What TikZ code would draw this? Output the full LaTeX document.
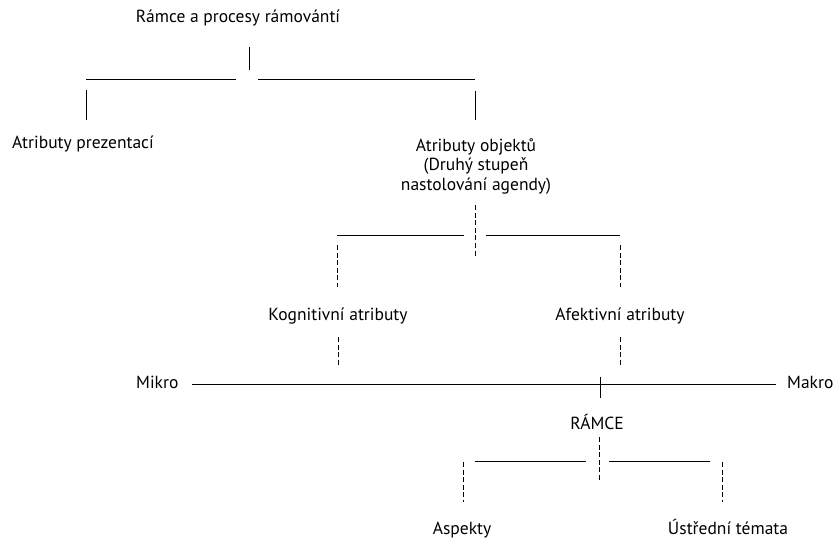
\documentclass[tikz,border=0pt]{standalone}
\usepackage{fontspec}
\setmainfont{PT Sans}
\begin{document}
\begin{tikzpicture}[x=1pt,y=-1pt,
  lbl/.style={font=\fontsize{17.5}{19.5}\selectfont,inner sep=0pt,anchor=base},
  solidseg/.style={line width=0.9pt,black},
  dashseg/.style={line width=0.9pt,black,dash pattern=on 5pt off 2.6pt}]
\useasboundingbox (0,0) rectangle (837,540);

% labels
\node[lbl] (ramce) at (238,23) {Rámce a procesy rámovántí};
\node[lbl] (prez) at (83,149) {Atributy prezentací};
\node[lbl,align=center] (obj) at (476,190) {Atributy objektů\\(Druhý stupeň\\nastolování agendy)};
\node[lbl] (kog) at (338,320) {Kognitivní atributy};
\node[lbl] (afe) at (620,320) {Afektivní atributy};
\node[lbl,anchor=base west] (mikro) at (136,388) {Mikro};
\node[lbl,anchor=base west] (makro) at (787,388) {Makro};
\node[lbl] (frame) at (597,429) {RÁMCE};
\node[lbl] (asp) at (462,534) {Aspekty};
\node[lbl] (ust) at (728,534) {Ústřední témata};

% solid bracket: frames and framing processes
\draw[solidseg] (249,47) -- (249,70);
\draw[solidseg] (86,79) -- (236,79);
\draw[solidseg] (258,79) -- (475,79);
\draw[solidseg] (86,90) -- (86,120);
\draw[solidseg] (475,91) -- (475,120);

% dashed bracket: object attributes
\draw[dashseg] (475,205) -- (475,258);
\draw[solidseg] (337,235) -- (464,235);
\draw[solidseg] (486,235) -- (620,235);
\draw[dashseg] (337,245) -- (337,287);
\draw[dashseg] (620,245) -- (620,287);
\draw[dashseg] (338,337) -- (338,367);
\draw[dashseg] (620,337) -- (620,367);

% micro--macro axis
\draw[solidseg] (192,384) -- (776,384);
\draw[solidseg] (600,377) -- (600,398);

% dashed bracket: frames
\draw[dashseg] (599,437) -- (599,482);
\draw[solidseg] (475,461) -- (586,461);
\draw[solidseg] (609,461) -- (710,461);
\draw[dashseg] (463,462) -- (463,502);
\draw[dashseg] (722,462) -- (722,502);
\end{tikzpicture}
\end{document}
